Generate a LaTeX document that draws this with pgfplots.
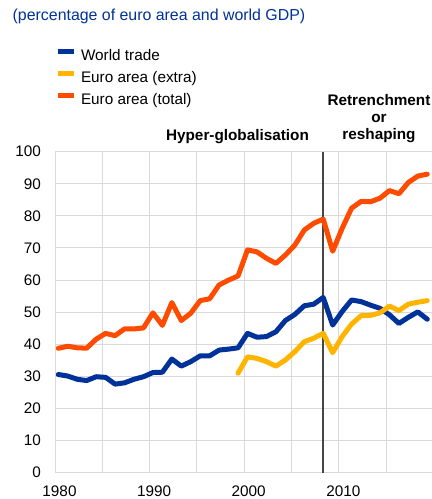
\documentclass[border=0pt]{standalone}
\usepackage{pgfplots}
\pgfplotsset{compat=1.18}
\usepackage{fontspec}
\setmainfont{Liberation Sans}
\definecolor{ecbblue}{RGB}{0,50,153}
\definecolor{ecbyellow}{RGB}{255,180,0}
\definecolor{ecborange}{RGB}{255,75,0}
\definecolor{gridgray}{RGB}{217,217,217}
\definecolor{vline}{RGB}{70,70,70}
\newcommand{\chartfont}{\fontsize{15.3bp}{18bp}\selectfont}
\begin{document}
\begin{tikzpicture}
\useasboundingbox (0bp,0bp) rectangle (432bp,499bp);
\node[anchor=base west, inner sep=0pt, text=ecbblue, font=\fontsize{15.9bp}{18bp}\selectfont] at (12.5bp,478.7bp) {(percentage of euro area and world GDP)};
\begin{axis}[
  at={(55bp,26.3bp)}, anchor=south west,
  scale only axis, width=377bp, height=321bp,
  xmin=1979.65, xmax=2019.5, ymin=0, ymax=100,
  axis lines*=left,
  axis line style={draw=gridgray, line width=1bp},
  xtick={1979.65,1984.65,1989.65,1994.65,1999.65,2004.65,2009.65,2014.65},
  xticklabels={1980,,1990,,2000,,2010,},
  ytick={0,10,...,100},
  grid=major,
  major grid style={draw=gridgray, line width=1bp},
  major tick length=0pt,
  tick label style={font=\chartfont, inner sep=0pt, /pgf/number format/assume math mode=true},
  yticklabel style={xshift=-14bp},
  xticklabel style={yshift=-13.3bp, xshift=4.5bp},
  legend style={at={(axis description cs:0,1.32)}, anchor=north west, draw=none, fill=none,
    inner sep=0pt, outer sep=0pt, row sep=7.15bp, column sep=5bp,
    nodes={inner sep=0pt, text height=11bp, text depth=3.5bp}, font=\chartfont},
  legend cell align=left,
  legend image code/.code={\draw[#1, line width=5bp, line cap=butt] (0bp,5bp) -- (16bp,5bp);},
  every axis plot/.append style={line width=5bp, line join=round, line cap=round},
]
\draw[line width=2bp, color=vline] (axis cs:2008,0) -- (axis cs:2008,100);
\addplot[color=ecbblue] coordinates {
(1980,30.6) (1981,30.1) (1982,29.1) (1983,28.7) (1984,29.9) (1985,29.7) (1986,27.6) (1987,28.0) (1988,29.1) (1989,29.9)
(1990,31.2) (1991,31.3) (1992,35.4) (1993,33.2) (1994,34.6) (1995,36.4) (1996,36.4) (1997,38.2) (1998,38.5) (1999,38.9)
(2000,43.4) (2001,42.2) (2002,42.4) (2003,43.9) (2004,47.4) (2005,49.3) (2006,52.0) (2007,52.5) (2008,54.6) (2009,46.0)
(2010,50.2) (2011,53.8) (2012,53.3) (2013,52.2) (2014,51.2) (2015,49.2) (2016,46.5) (2017,48.4) (2018,50.1) (2019,47.8)
};
\addlegendentry{World trade}
\addplot[color=ecbyellow] coordinates {
(1999,31.0) (2000,36.1) (2001,35.6) (2002,34.6) (2003,33.2) (2004,35.1) (2005,37.7) (2006,40.8) (2007,41.9) (2008,43.4)
(2009,37.4) (2010,42.4) (2011,46.3) (2012,48.9) (2013,49.0) (2014,49.8) (2015,51.9) (2016,50.5) (2017,52.5) (2018,53.1) (2019,53.6)
};
\addlegendentry{Euro area (extra)}
\addplot[color=ecborange] coordinates {
(1980,38.75) (1981,39.4) (1982,38.9) (1983,38.8) (1984,41.6) (1985,43.4) (1986,42.7) (1987,44.8) (1988,44.8) (1989,45.1)
(1990,49.8) (1991,45.9) (1992,53.0) (1993,47.4) (1994,49.7) (1995,53.6) (1996,54.2) (1997,58.5) (1998,60.0) (1999,61.3)
(2000,69.4) (2001,68.8) (2002,66.8) (2003,65.2) (2004,67.8) (2005,70.9) (2006,75.6) (2007,77.7) (2008,79.0) (2009,69.0)
(2010,76.1) (2011,82.4) (2012,84.5) (2013,84.4) (2014,85.5) (2015,87.9) (2016,86.9) (2017,90.4) (2018,92.4) (2019,93.0)
};
\addlegendentry{Euro area (total)}
\end{axis}
\node[anchor=base, inner sep=0pt, font=\chartfont\bfseries] at (237.5bp,358bp) {Hyper-globalisation};
\node[anchor=base, inner sep=0pt, font=\chartfont\bfseries] at (379bp,393bp) {Retrenchment};
\node[anchor=base, inner sep=0pt, font=\chartfont\bfseries] at (379bp,376bp) {or};
\node[anchor=base, inner sep=0pt, font=\chartfont\bfseries] at (379bp,359bp) {reshaping};
\end{tikzpicture}
\end{document}
